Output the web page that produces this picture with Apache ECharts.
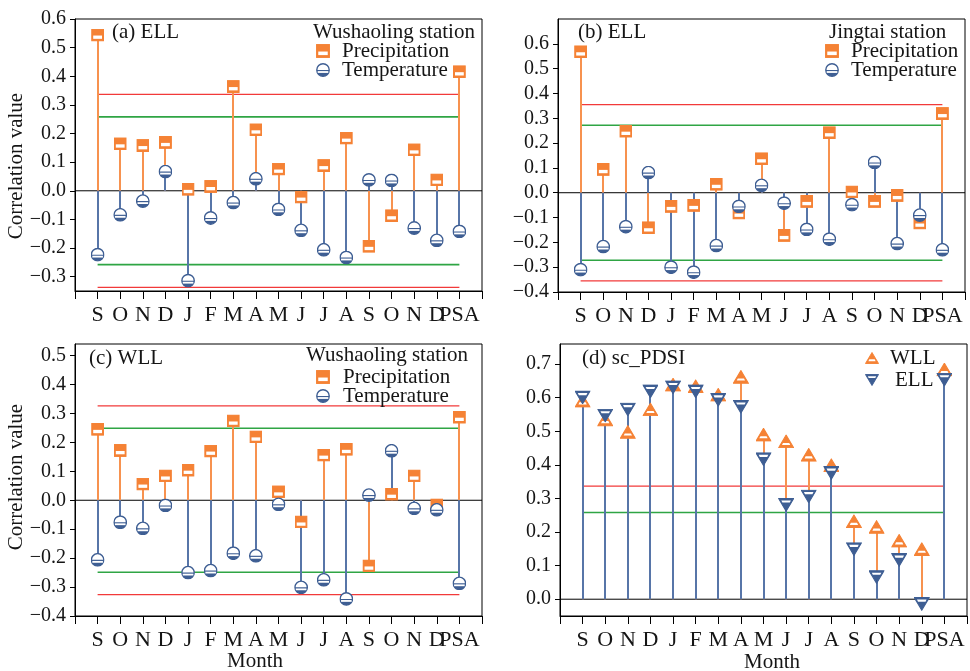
<!DOCTYPE html>
<html><head><meta charset="utf-8">
<script src="https://cdn.jsdelivr.net/npm/echarts@6/dist/echarts.min.js"></script>
<style>html,body{margin:0;padding:0;background:#fff}#c{width:970px;height:671px}</style>
</head><body><div id="c"></div>
<script>
// ---------- data ----------
const months = ['S','O','N','D','J','F','M','A','M','J','J','A','S','O','N','D','PSA'];

const aPrecip = [0.544,0.164,0.158,0.169,0.005,0.015,0.364,0.213,0.076,-0.022,0.088,0.184,-0.194,-0.087,0.143,0.038,0.416];
const aTemp   = [-0.223,-0.084,-0.036,0.067,-0.314,-0.095,-0.041,0.042,-0.065,-0.138,-0.206,-0.233,0.038,0.036,-0.130,-0.173,-0.142];
const bPrecip = [0.568,0.094,0.248,-0.141,-0.055,-0.051,0.034,-0.082,0.137,-0.172,-0.035,0.242,0.003,-0.035,-0.011,-0.122,0.319];
const bTemp   = [-0.310,-0.217,-0.137,0.081,-0.300,-0.320,-0.213,-0.055,0.030,-0.042,-0.148,-0.187,-0.048,0.122,-0.205,-0.090,-0.230];
const cPrecip = [0.245,0.172,0.056,0.084,0.104,0.170,0.274,0.219,0.029,-0.075,0.156,0.176,-0.227,0.021,0.084,-0.016,0.287];
const cTemp   = [-0.206,-0.076,-0.097,-0.018,-0.250,-0.243,-0.183,-0.192,-0.014,-0.301,-0.275,-0.341,0.018,0.171,-0.028,-0.033,-0.287];
const dWLL    = [0.591,0.535,0.498,0.565,0.639,0.634,0.609,0.662,0.490,0.470,0.430,0.399,0.232,0.215,0.174,0.149,0.684];
const dELL    = [0.601,0.547,0.565,0.619,0.631,0.619,0.594,0.573,0.417,0.281,0.306,0.376,0.149,0.066,0.117,-0.014,0.654];

// significance thresholds [red (p<0.01), green (p<0.05)]
const aThr = [0.337, 0.258];
const bThr = [0.355, 0.272];
const cThr = [0.326, 0.249];
const dThr = [0.337, 0.258];

// y tick labels
const aTicks = [-0.3,-0.2,-0.1,0,0.1,0.2,0.3,0.4,0.5,0.6];
const bTicks = [-0.4,-0.3,-0.2,-0.1,0,0.1,0.2,0.3,0.4,0.5,0.6];
const cTicks = [-0.4,-0.3,-0.2,-0.1,0,0.1,0.2,0.3,0.4,0.5];
const dTicks = [0,0.1,0.2,0.3,0.4,0.5,0.6,0.7];

// ---------- styles ----------
const ORANGE = '#F58235', BLUE = '#3E5E93';
const STEM_O = '#F7924F', STEM_B = '#5775A8';
const RED = '#F23A3A', GREEN = '#2FA544';
const FONT = 'Liberation Serif';
const TXT = '#151515';

function img(svg){ return 'image://data:image/svg+xml;charset=utf-8,' + encodeURIComponent(svg); }
const SQ = img('<svg xmlns="http://www.w3.org/2000/svg" width="13" height="13" viewBox="0 0 13 13"><rect x="0.7" y="0.7" width="11.6" height="11.6" fill="'+ORANGE+'" stroke="'+ORANGE+'" stroke-width="1.3"/><rect x="2.1" y="7" width="8.8" height="3.3" fill="#fff"/></svg>');
const CI = img('<svg xmlns="http://www.w3.org/2000/svg" width="14" height="14" viewBox="0 0 14 14"><circle cx="7" cy="7" r="6.2" fill="#fff" stroke="'+BLUE+'" stroke-width="1.4"/><path d="M0.8,7 A6.2,6.2 0 0 0 13.2,7 Z" fill="'+BLUE+'"/><rect x="1.7" y="8.1" width="10.6" height="1.8" fill="#fff"/></svg>');
const TU = img('<svg xmlns="http://www.w3.org/2000/svg" width="16" height="14" viewBox="0 0 15 13"><polygon points="7.5,0.6 14.5,12.4 0.5,12.4" fill="'+ORANGE+'" stroke="'+ORANGE+'" stroke-width="1" stroke-linejoin="miter"/><polygon points="4.6,7.9 10.4,7.9 11.4,9.9 3.6,9.9" fill="#fff"/></svg>');
const TD = img('<svg xmlns="http://www.w3.org/2000/svg" width="16" height="14" viewBox="0 0 15 13"><polygon points="0.5,0.6 14.5,0.6 7.5,12.4" fill="'+BLUE+'" stroke="'+BLUE+'" stroke-width="1" stroke-linejoin="miter"/><polygon points="3.0,2.4 12.0,2.4 11.0,4.4 4.0,4.4" fill="#fff"/></svg>');

const panels = [
  {grid:{left:75, top:19, width:407, height:272}, yMin:-0.35, yMax:0.6, ticks:aTicks, thr:aThr, both:true,
   s:[{name:'Precipitation', data:aPrecip, sym:SQ, size:[13,13], stem:STEM_O},
      {name:'Temperature', data:aTemp, sym:CI, size:[14,14], stem:STEM_B}]},
  {grid:{left:558, top:19, width:407, height:273}, yMin:-0.4, yMax:0.7, ticks:bTicks, thr:bThr, both:true,
   s:[{name:'Precipitation', data:bPrecip, sym:SQ, size:[13,13], stem:STEM_O},
      {name:'Temperature', data:bTemp, sym:CI, size:[14,14], stem:STEM_B}]},
  {grid:{left:75, top:344, width:407, height:272}, yMin:-0.4, yMax:0.54, ticks:cTicks, thr:cThr, both:true,
   s:[{name:'Precipitation', data:cPrecip, sym:SQ, size:[13,13], stem:STEM_O},
      {name:'Temperature', data:cTemp, sym:CI, size:[14,14], stem:STEM_B}]},
  {grid:{left:560, top:344, width:407, height:272}, yMin:-0.05, yMax:0.76, ticks:dTicks, thr:dThr, both:false,
   s:[{name:'WLL', data:dWLL, sym:TU, size:[16,14], stem:STEM_O},
      {name:'ELL', data:dELL, sym:TD, size:[16,14], stem:STEM_B}]}
];

const grid = [], xAxis = [], yAxis = [], series = [];
panels.forEach((p, i) => {
  grid.push(Object.assign({show:true, borderColor:'#000', borderWidth:1, backgroundColor:'transparent'}, p.grid));
  xAxis.push({
    type:'value', gridIndex:i, min:-1, max:17, interval:1,
    axisLine:{onZero:false, lineStyle:{color:'#000', width:1}},
    axisTick:{show:true, inside:false, length:8, lineStyle:{color:'#000', width:1}},
    axisLabel:{margin:13, fontFamily:FONT, fontSize:22, color:TXT, showMinLabel:true, showMaxLabel:true,
      formatter:v => { const k = Math.round(v); return (k>=0 && k<months.length) ? months[k] : ''; }},
    splitLine:{show:false}
  });
  yAxis.push({
    type:'value', gridIndex:i, min:p.yMin, max:p.yMax,
    axisLine:{show:true, onZero:false, lineStyle:{color:'#000', width:1}},
    axisTick:{show:true, inside:false, length:5, customValues:p.ticks, lineStyle:{color:'#000'}},
    axisLabel:{margin:9, fontFamily:FONT, fontSize:20, color:TXT, customValues:p.ticks,
      formatter:v => (v < 0 ? '\u2212' : '') + Math.abs(v).toFixed(1)},
    splitLine:{show:false}
  });
  // zero line
  series.push({type:'line', xAxisIndex:i, yAxisIndex:i, data:[[-1,0],[17,0]], symbol:'none', silent:true,
    lineStyle:{color:'#000', width:1}, z:1});
  // threshold lines
  p.thr.forEach((t, j) => {
    const col = j === 0 ? RED : GREEN;
    const w = j === 0 ? 1.2 : 1.6;
    series.push({type:'line', xAxisIndex:i, yAxisIndex:i, data:[[0,t],[16,t]], symbol:'none', silent:true,
      lineStyle:{color:col, width:w}, z:1});
    if (p.both) series.push({type:'line', xAxisIndex:i, yAxisIndex:i, data:[[0,-t],[16,-t]], symbol:'none', silent:true,
      lineStyle:{color:col, width:w}, z:1});
  });
  // stems (snapped to whole pixels so overlapping stems do not blend)
  p.s.forEach(s => {
    series.push({type:'custom', xAxisIndex:i, yAxisIndex:i, silent:true, z:2,
      data:s.data.map((v,k) => [k, v]),
      renderItem:(params, api) => {
        const x = api.value(0), y = api.value(1);
        const p0 = api.coord([x, 0]), p1 = api.coord([x, y]);
        const px = Math.round(p0[0]);
        return {type:'line', shape:{x1:px, y1:p0[1], x2:px, y2:p1[1]},
          style:{stroke:s.stem, lineWidth:2}};
      }});
  });
  // markers
  p.s.forEach(s => {
    series.push({type:'scatter', name:s.name, xAxisIndex:i, yAxisIndex:i, z:3,
      symbol:s.sym, symbolSize:s.size, data:s.data.map((v,k) => [k, v]),
      itemStyle:{color: s.stem === STEM_O ? ORANGE : BLUE, opacity:1}});
  });
});

function lg(name, icon, cx, cy, gap){
  return {show:true, orient:'vertical', left:cx-7, top:cy-11, padding:0, itemGap:0,
    itemWidth:14, itemHeight:14, selectedMode:false,
    data:[{name:name, icon:icon}],
    textStyle:{fontFamily:FONT, fontSize:21, color:TXT, lineHeight:22, padding:[0,0,0,gap]}};
}
const legend = [
  lg('Precipitation', SQ, 323, 51, 7),
  lg('Temperature', CI, 323, 70, 7),
  lg('Precipitation', SQ, 832, 51, 7),
  lg('Temperature', CI, 832, 70, 7),
  lg('Precipitation', SQ, 323, 377, 8),
  lg('Temperature', CI, 323, 396, 8),
  lg('WLL', TU, 872, 358, 6),
  lg('ELL', TD, 872, 380, 11)
];

function txt(text, x, y, opt){
  return Object.assign({type:'text', x:x, y:y, silent:true,
    style:{text:text, fontFamily:FONT, fontSize:21, fill:TXT, align:'left', verticalAlign:'middle'}}, opt||{});
}
const graphic = [
  txt('(a) ELL', 112, 32),
  txt('Wushaoling station', 313, 32),
  txt('(b) ELL', 578, 32),
  txt('Jingtai station', 829, 32),
  txt('(c) WLL', 89, 358),
  txt('Wushaoling station', 306, 355),
  txt('(d) sc_PDSI', 582, 358),
  {type:'text', x:16, y:166, rotation:Math.PI/2, silent:true,
    style:{text:'Correlation value', fontFamily:FONT, fontSize:21, fill:TXT, align:'center', verticalAlign:'middle'}},
  {type:'text', x:16, y:477, rotation:Math.PI/2, silent:true,
    style:{text:'Correlation value', fontFamily:FONT, fontSize:21, fill:TXT, align:'center', verticalAlign:'middle'}},
  {type:'text', x:255, y:661, silent:true,
    style:{text:'Month', fontFamily:FONT, fontSize:21, fill:TXT, align:'center', verticalAlign:'middle'}},
  {type:'text', x:772, y:662, silent:true,
    style:{text:'Month', fontFamily:FONT, fontSize:21, fill:TXT, align:'center', verticalAlign:'middle'}}
];

const chart = echarts.init(document.getElementById('c'), null, {renderer:'canvas'});
chart.setOption({
  animation:false,
  backgroundColor:'#fff',
  textStyle:{fontFamily:FONT},
  grid, xAxis, yAxis, series, legend, graphic
});
</script>
</body></html>
